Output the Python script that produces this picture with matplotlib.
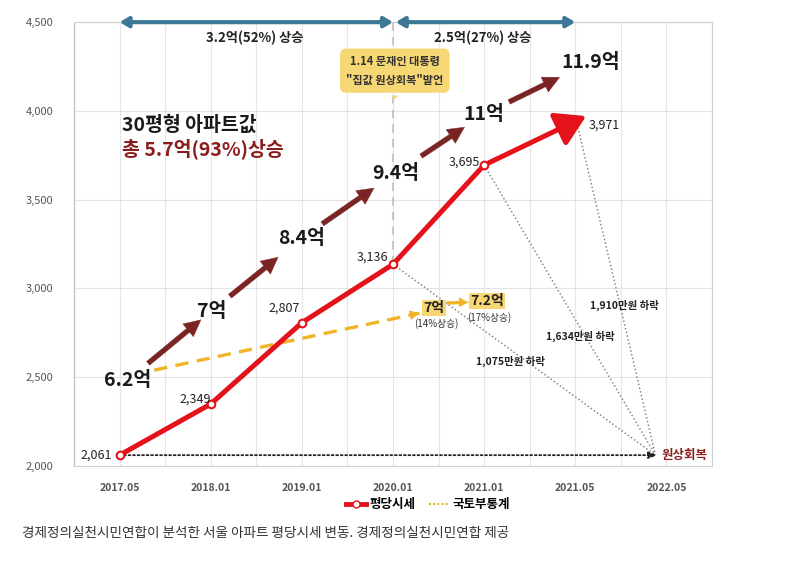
import matplotlib
matplotlib.use("Agg")
import matplotlib.pyplot as plt
from matplotlib.lines import Line2D

plt.rcParams['font.family'] = ['Noto Sans CJK KR', 'DejaVu Sans']

# ---- data ----
periods = ["2017.05", "2018.01", "2019.01", "2020.01", "2021.01", "2021.05", "2022.05"]
price_x = [0, 1, 2, 3, 4, 5]
price_vals = [2061, 2349, 2807, 3136, 3695, 3971]
price_labels = ["2,061", "2,349", "2,807", "3,136", "3,695", "3,971"]
recover_x = 5.88  # where the dotted lines converge (원상회복)

# apartment (30평형) price labels (억) and where they sit
apt_labels = ["6.2억", "7억", "8.4억", "9.4억", "11억", "11.9억"]
apt_x = [0.09, 1.01, 2.0, 3.03, 4.0, 5.17]
apt_y = [2484, 2873, 3284, 3650, 3982, 4275]

# 국토부통계 (dashed yellow)
gov_x1 = [0.38, 3.29]
gov_y1 = [2540, 2861]
gov_x2 = [3.59, 3.83]
gov_y2 = [2918, 2922]
gov_labels = ["7억", "7.2억"]
gov_sub = ["(14%상승)", "(17%상승)"]
gov_lx = [3.45, 4.03]
gov_ly = [2890, 2929]

drop_labels = ["1,075만원 하락", "1,634만원 하락", "1,910만원 하락"]
drop_from = [3, 4, 5]
drop_lx = [4.29, 5.06, 5.54]
drop_ly = [2590, 2730, 2905]

yticks = [2000, 2500, 3000, 3500, 4000, 4500]
ytick_labels = ["2,000", "2,500", "3,000", "3,500", "4,000", "4,500"]

RED = "#e3121b"
DARK = "#7a2424"
YEL = "#f0b429"
BLUE = "#3d7896"

fig = plt.figure(figsize=(8, 5.83), dpi=100)
ax = fig.add_axes([0.0925, 0.2007, 0.7975, 0.7613])
ax.set_xlim(-0.5, 6.5)
ax.set_ylim(2000, 4500)

# grid
for gx in [i * 0.5 - 0.5 for i in range(15)]:
    ax.axvline(gx, color="#e6e6e6", lw=0.8, zorder=0)
for gy in yticks:
    ax.axhline(gy, color="#e3e3e3", lw=0.8, zorder=0)
for s in ["top", "right", "bottom"]:
    ax.spines[s].set_color("#d0d0d0")
ax.spines["left"].set_color("#bbbbbb")

ax.set_xticks(range(len(periods)))
ax.set_xticklabels(periods, fontsize=7.5, color="#555555", fontweight="bold")
ax.set_yticks(yticks)
ax.set_yticklabels(ytick_labels, fontsize=8, color="#555555")
ax.tick_params(axis="both", length=0)
ax.tick_params(axis="y", pad=15)
ax.tick_params(axis="x", pad=12)

# vertical dashed at 2020.01
ax.plot([3, 3], [price_vals[3], 4500], color="#c8c8c8", lw=1.5, ls=(0, (4, 3)), zorder=1)

# dotted lines to 원상회복
for i in drop_from:
    ax.plot([price_x[i], recover_x], [price_vals[i], price_vals[0]], color="#8a8a8a",
            lw=1.1, ls=(0, (1, 1.5)), zorder=1)
ax.annotate("", xy=(recover_x + 0.02, price_vals[0]), xytext=(price_x[0], price_vals[0]),
            arrowprops=dict(arrowstyle="-|>,head_length=0.5,head_width=0.2",
                            color="#222222", lw=1.3, ls=(0, (1, 1.5)),
                            shrinkA=0, shrinkB=0), zorder=2)
ax.text(recover_x + 0.07, price_vals[0], "원상회복", color="#8b1c1c", fontsize=9,
        fontweight="bold", va="center", ha="left")

for lab, lx, ly in zip(drop_labels, drop_lx, drop_ly):
    ax.text(lx, ly, lab, fontsize=7.5, fontweight="bold", color="#222222",
            ha="center", va="center")

# yellow dashed series
ax.plot(gov_x1, gov_y1, color=YEL, lw=2.4, ls=(0, (4, 2.5)), zorder=3)
ax.annotate("", xy=(gov_x1[1], gov_y1[1]), xytext=(gov_x1[1] - 0.05, gov_y1[1] - 5.5),
            arrowprops=dict(arrowstyle="-|>,head_length=0.7,head_width=0.35",
                            color=YEL, lw=0, shrinkA=0, shrinkB=0))
ax.plot(gov_x2, gov_y2, color=YEL, lw=2.4, ls=(0, (4, 2.5)), zorder=3)
ax.annotate("", xy=(gov_x2[1], gov_y2[1]), xytext=(gov_x2[1] - 0.05, gov_y2[1]),
            arrowprops=dict(arrowstyle="-|>,head_length=0.7,head_width=0.35",
                            color=YEL, lw=0, shrinkA=0, shrinkB=0))
for lab, sub, lx, ly in zip(gov_labels, gov_sub, gov_lx, gov_ly):
    ax.text(lx, ly, lab, fontsize=10, fontweight="bold", color="#222222",
            ha="center", va="center",
            bbox=dict(boxstyle="square,pad=0.1", fc="#f7d774", ec="none"), zorder=5)
    ax.text(lx + 0.03, ly - 90, sub, fontsize=7, color="#333333",
            ha="center", va="center", zorder=5)

# red main line
ax.plot(price_x[:5], price_vals[:5], color=RED, lw=3.6, zorder=4, solid_capstyle="round")
ax.annotate("", xy=(price_x[5] + 0.12, price_vals[5]), xytext=(price_x[4], price_vals[4]),
            arrowprops=dict(arrowstyle="-|>,head_length=1.0,head_width=0.6",
                            color=RED, lw=3.6, shrinkA=0, shrinkB=0,
                            mutation_scale=18), zorder=4)
ax.plot(price_x[:5], price_vals[:5], ls="none", marker="o", ms=5.5,
        mfc="white", mec=RED, mew=1.5, zorder=6)

# value labels
offs = [(-0.08, 0, "right"), (0.0, 28, "right"), (-0.02, 83, "right"),
        (-0.05, 41, "right"), (-0.05, 17, "right"), (0.15, -51, "left")]
for (x, v, lab), (dx, dy, ha) in zip(zip(price_x, price_vals, price_labels), offs):
    ax.text(x + dx, v + dy, lab, fontsize=9, color="#222222", ha=ha, va="center", zorder=7)

# apartment price labels with arrows
for lab, lx, ly in zip(apt_labels, apt_x, apt_y):
    ax.text(lx, ly, lab, fontsize=14, fontweight="bold", color="#1a1a1a",
            ha="center", va="center", zorder=7)
shrink_a = [19, 17, 18, 22, 20]
shrink_b = [10, 22, 19, 17, 25]
for i in range(len(apt_labels) - 1):
    ax.annotate("", xy=(apt_x[i + 1], apt_y[i + 1]), xytext=(apt_x[i], apt_y[i]),
                arrowprops=dict(arrowstyle="simple,head_length=0.85,head_width=0.85,tail_width=0.25",
                                fc=DARK, ec=DARK, lw=0.3, shrinkA=shrink_a[i],
                                shrinkB=shrink_b[i], mutation_scale=14), zorder=5)

# title texts
ax.text(0.03, 3920, "30평형 아파트값", fontsize=14, fontweight="bold", color="#1a1a1a",
        ha="left", va="center")
ax.text(0.03, 3785, "총 5.7억(93%)상승", fontsize=14, fontweight="bold", color="#8b1c1c",
        ha="left", va="center")

# top range arrows
ax.annotate("", xy=(0, 4500), xytext=(3, 4500),
            arrowprops=dict(arrowstyle="<|-|>,head_length=0.5,head_width=0.3", color=BLUE,
                            lw=3, shrinkA=0, shrinkB=0), annotation_clip=False)
ax.annotate("", xy=(3.03, 4500), xytext=(5, 4500),
            arrowprops=dict(arrowstyle="<|-|>,head_length=0.5,head_width=0.3", color=BLUE,
                            lw=3, shrinkA=0, shrinkB=0), annotation_clip=False)
ax.text(1.48, 4410, "3.2억(52%) 상승", fontsize=9.5, fontweight="bold", color="#222222",
        ha="center", va="center")
ax.text(3.98, 4410, "2.5억(27%) 상승", fontsize=9.5, fontweight="bold", color="#222222",
        ha="center", va="center")

# callout
ax.annotate("1.14 문재인 대통령\n\"집값 원상회복\"발언", xy=(3.02, 4050), xytext=(3.02, 4227),
            fontsize=8, fontweight="bold", color="#333333", ha="center", va="center",
            linespacing=1.6,
            bbox=dict(boxstyle="round,pad=0.55", fc="#f7d774", ec="none"),
            arrowprops=dict(arrowstyle="wedge,tail_width=0.6,shrink_factor=0.5",
                            fc="#f7d774", ec="none"), zorder=8)

# legend
handles = [Line2D([0], [0], color=RED, lw=3.5, marker="o", ms=5, mfc="white", mec=RED),
           Line2D([0], [0], color=YEL, lw=1.5, ls=(0, (1, 1)))]
fig.legend(handles, ["평당시세", "국토부통계"], loc="center", bbox_to_anchor=(0.535, 0.134),
           ncol=2, frameon=False, prop=dict(size=9, weight="bold"), handlelength=1.6,
           handletextpad=0.3, columnspacing=1.0)

fig.text(0.0275, 0.086, "경제정의실천시민연합이 분석한 서울 아파트 평당시세 변동. 경제정의실천시민연합 제공",
         fontsize=9.8, color="#333333", ha="left", va="center")

fig.savefig("out.png", dpi=100)
